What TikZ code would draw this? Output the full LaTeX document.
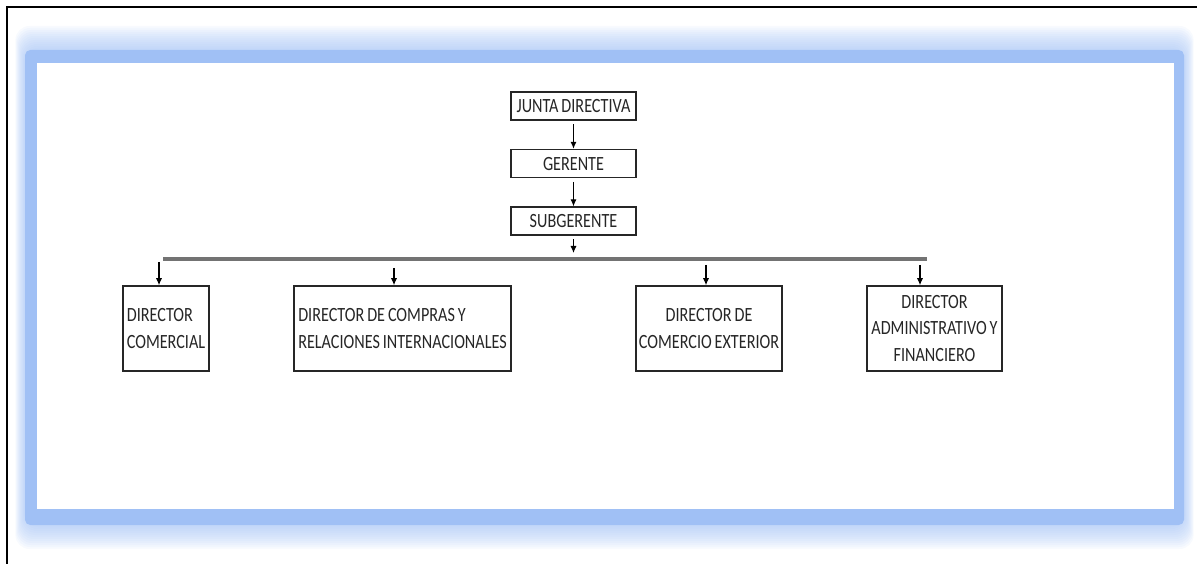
\documentclass[tikz,border=0pt]{standalone}
\usepackage{fontspec}
\setmainfont{Carlito}[FakeStretch=0.8, WordSpace=0.8]
\usepackage{tikz}
\usetikzlibrary{positioning}
\usetikzlibrary{arrows.meta}

\definecolor{FrameBlue}{RGB}{160,192,245}
\tikzset{
	cargo/.style={draw=black!85, line width=0.9pt, fill=white, inner sep=1.5pt, text=black!85, font=\fontsize{11.5}{15}\selectfont},
	cargoTop/.style={cargo, minimum width=2.5cm, minimum height=0.56cm},
	cargoDir/.style={cargo, minimum height=1.7cm},
	flecha/.style={-{Latex[length=4pt,width=3.5pt]}, line width=0.6pt},
	barra/.style={line width=2pt, black!55},
}

\begin{document}
\begin{tikzpicture}[x=0.02cm, y=-0.02cm]
		
		% ---------------------
		% Proper size --- Bounding box
		\useasboundingbox (0,0) rectangle (1197,564);
		
		% ---------------------
		% Page frame & blue glow
		\draw[line width=1.2pt] (7,564) -- (7,7) -- (1197,7);
		
		\foreach \k in {12,11,...,1}
			\fill[FrameBlue, opacity=0.08, rounded corners=8pt] (25-0.8*\k,50-2*\k) rectangle (1184+0.8*\k,525+2*\k);
		\fill[FrameBlue, rounded corners=3pt] (25,50) rectangle (1184,525);
		\fill[white] (37,63) rectangle (1174,509);
		
		% ---------------------
		% Top of the chart
		\node[cargoTop] (Junta) at (573.5,106) {JUNTA DIRECTIVA};
		\node[cargoTop, below=0.56cm of Junta] (Gerente) {GERENTE};
		\node[cargoTop, below=0.56cm of Gerente] (Subgerente) {SUBGERENTE};
		
		\coordinate (BarraL) at (163,259);
		\coordinate (BarraR) at (927,259);
		\coordinate (SubFin) at (573.5,253);
		
		% ---------------------
		% Directors
		\node[cargoDir, minimum width=1.72cm, align=left] (DirComercial) at (166,328.5) {DIRECTOR\\COMERCIAL};
		\node[cargoDir, minimum width=4.34cm, align=left] (DirCompras) at (402.5,328.5) {DIRECTOR DE COMPRAS Y\\RELACIONES INTERNACIONALES};
		\node[cargoDir, minimum width=2.88cm, align=center] (DirExterior) at (709,328.5) {DIRECTOR DE\\COMERCIO EXTERIOR};
		\node[cargoDir, minimum width=2.7cm, align=center] (DirAdmin) at (934.5,328.5) {DIRECTOR\\ADMINISTRATIVO Y\\FINANCIERO};
		
		\coordinate (T1) at (159,262);
		\coordinate (T2) at (394,268);
		\coordinate (T3) at (706,265);
		\coordinate (T4) at (920,265);
		
		% ---------------------
		\draw[flecha, shorten <=2pt] (Junta) -- (Gerente);
		\draw[flecha, shorten <=2pt] (Gerente) -- (Subgerente);
		\draw[flecha, shorten <=2pt] (Subgerente) -- (SubFin);
		
		\draw[barra] (BarraL) -- (BarraR);
		
		\draw[flecha] (T1) -- (T1 |- DirComercial.north);
		\draw[flecha] (T2) -- (T2 |- DirCompras.north);
		\draw[flecha] (T3) -- (T3 |- DirExterior.north);
		\draw[flecha] (T4) -- (T4 |- DirAdmin.north);
		
\end{tikzpicture}
\end{document}
